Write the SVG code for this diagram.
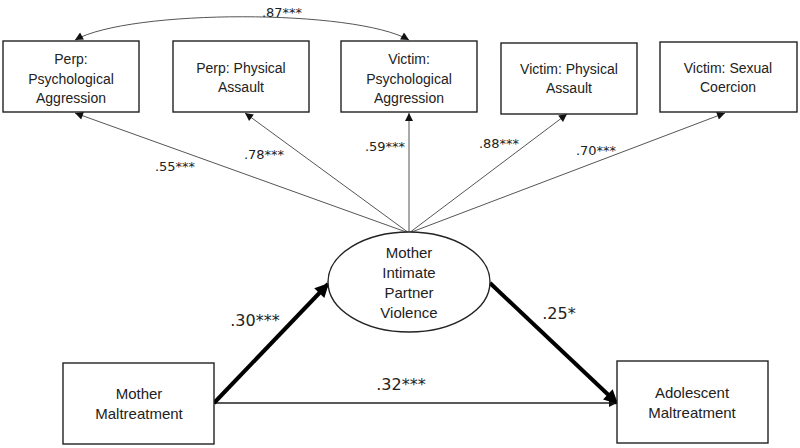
<svg xmlns="http://www.w3.org/2000/svg" width="800" height="448" viewBox="0 0 800 448">
<style>
.box{fill:#fff;stroke:#222;stroke-width:1.4}
.t{font-family:"Liberation Sans",Arial,sans-serif;font-size:14px;fill:#222;text-anchor:middle}
.t2{font-family:"Liberation Sans",Arial,sans-serif;font-size:15px;fill:#222;text-anchor:middle}
.lbl{font-family:"DejaVu Sans","Liberation Sans",sans-serif;font-size:13px;fill:#222;text-anchor:middle}
.lbl2{font-family:"DejaVu Sans","Liberation Sans",sans-serif;font-size:16px;fill:#222;text-anchor:middle}
.thin{fill:none;stroke:#555;stroke-width:1}
.thick{fill:none;stroke:#000;stroke-width:4}
</style>
<defs>
<marker id="ah" viewBox="0 0 10 10" refX="10" refY="5" markerWidth="10" markerHeight="8" markerUnits="userSpaceOnUse" orient="auto-start-reverse"><path d="M0,0 L10,5 L0,10 z" fill="#111"/></marker>
<marker id="ahb" viewBox="0 0 10 10" refX="9" refY="5" markerWidth="4" markerHeight="3.5" orient="auto"><path d="M0,0 L10,5 L0,10 z" fill="#000"/></marker>
</defs>
<rect width="800" height="448" fill="#fff"/>
<g id="connectors">
<path class="thin" d="M75,40 C130,9 355,9 409,40" marker-start="url(#ah)" marker-end="url(#ah)"/>
<line class="thin" x1="409" y1="233" x2="75" y2="113" marker-end="url(#ah)"/>
<line class="thin" x1="409" y1="233" x2="245" y2="113" marker-end="url(#ah)"/>
<line class="thin" x1="409" y1="233" x2="409" y2="113" marker-end="url(#ah)"/>
<line class="thin" x1="409" y1="233" x2="567" y2="114" marker-end="url(#ah)"/>
<line class="thin" x1="409" y1="233" x2="725" y2="113" marker-end="url(#ah)"/>
<line x1="214" y1="403" x2="617" y2="403" stroke="#222" stroke-width="1.3" marker-end="url(#ah)"/>
<line class="thick" x1="214" y1="403" x2="328" y2="284" marker-end="url(#ahb)"/>
<line class="thick" x1="490" y1="283" x2="617" y2="403" marker-end="url(#ahb)"/>
<text class="lbl" x="282" y="17">.87***</text>
<text class="lbl" x="175" y="171">.55***</text>
<text class="lbl" x="264" y="159">.78***</text>
<text class="lbl" x="385" y="151">.59***</text>
<text class="lbl" x="499" y="148">.88***</text>
<text class="lbl" x="596" y="155">.70***</text>
<text class="lbl2" x="255" y="326">.30***</text>
<text class="lbl2" x="559" y="319">.25*</text>
<text class="lbl2" x="401" y="390">.32***</text>
</g>
<g id="n1"><rect class="box" x="3" y="41" width="136" height="71"/>
<text class="t" x="71" y="64">Perp:</text><text class="t" x="71" y="84">Psychological</text><text class="t" x="71" y="103">Aggression</text></g>
<g id="n2"><rect class="box" x="173" y="41" width="136" height="71"/>
<text class="t" x="241" y="73">Perp: Physical</text><text class="t" x="241" y="92">Assault</text></g>
<g id="n3"><rect class="box" x="341" y="41" width="136" height="71"/>
<text class="t" x="409" y="64">Victim:</text><text class="t" x="409" y="84">Psychological</text><text class="t" x="409" y="103">Aggression</text></g>
<g id="n4"><rect class="box" x="501" y="43" width="136" height="71"/>
<text class="t" x="569" y="74">Victim: Physical</text><text class="t" x="569" y="93">Assault</text></g>
<g id="n5"><rect class="box" x="660" y="42" width="137" height="70"/>
<text class="t" x="728" y="73">Victim: Sexual</text><text class="t" x="728" y="92">Coercion</text></g>
<g id="n6"><ellipse class="box" cx="409" cy="282" rx="81" ry="50"/>
<text class="t2" x="409" y="258">Mother</text><text class="t2" x="409" y="278">Intimate</text><text class="t2" x="409" y="298">Partner</text><text class="t2" x="409" y="318">Violence</text></g>
<g id="n7"><rect class="box" x="63" y="363" width="151" height="81"/>
<text class="t2" x="139" y="399">Mother</text><text class="t2" x="139" y="419">Maltreatment</text></g>
<g id="n8"><rect class="box" x="617" y="361" width="151" height="82"/>
<text class="t2" x="692" y="398">Adolescent</text><text class="t2" x="692" y="418">Maltreatment</text></g>
</svg>
